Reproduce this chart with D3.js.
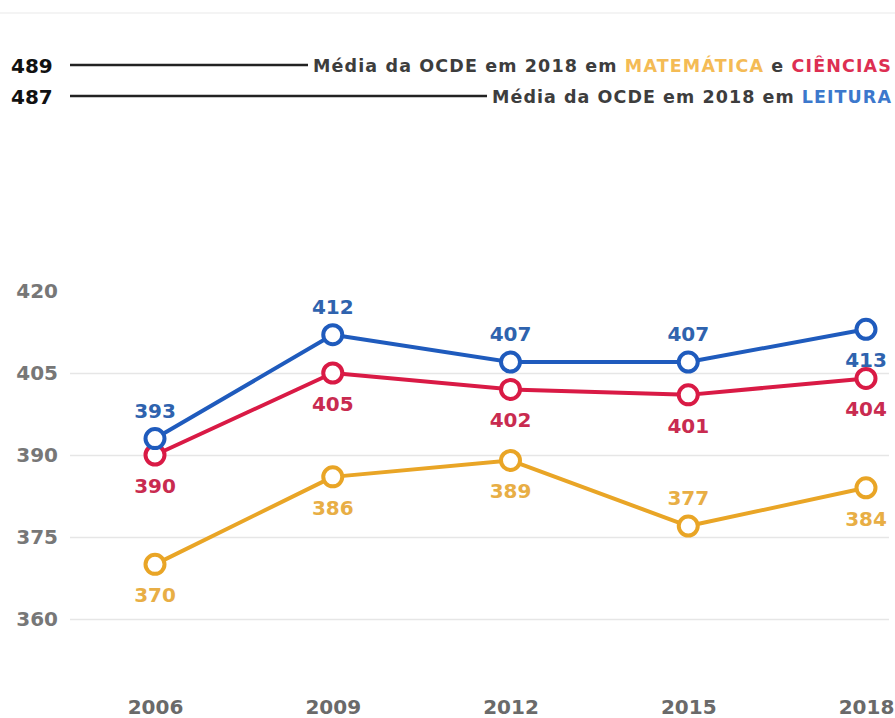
<!DOCTYPE html>
<html lang="pt">
<head>
<meta charset="utf-8">
<script src="https://cdn.jsdelivr.net/npm/d3@7"></script>
<style>
  html, body { margin: 0; padding: 0; background: #fff; }
  svg { display: block; font-family: "DejaVu Sans", "Open Sans", sans-serif; }
</style>
</head>
<body>
<svg id="chart" width="895" height="718"></svg>
<script>
// PISA scores for Brazil, by edition year
const years = [2006, 2009, 2012, 2015, 2018];
const leitura = [393, 412, 407, 407, 413];
const ciencias = [390, 405, 402, 401, 404];
const matematica = [370, 386, 389, 377, 384];
const yTicks = [360, 375, 390, 405, 420];

// label placement for each point: "up" above, "down" below the marker
const leituraPos = ["up", "up", "up", "up", "down"];
const cienciasPos = ["down", "down", "down", "down", "down"];
const matematicaPos = ["down", "down", "down", "up", "down"];

// OECD 2018 averages shown as reference rows above the chart
const oecdRefs = [
  { value: 489, start: 313, parts: [
      { t: "Média da OCDE em 2018 em ", c: "#3d3d3d" },
      { t: "MATEMÁTICA", c: "#f4bb55" },
      { t: " e ", c: "#3d3d3d" },
      { t: "CIÊNCIAS", c: "#dd2f52" } ] },
  { value: 487, start: 492, parts: [
      { t: "Média da OCDE em 2018 em ", c: "#3d3d3d" },
      { t: "LEITURA", c: "#3c78cc" } ] }
];

const series = [
  { name: "Matemática", values: matematica, pos: matematicaPos, line: "#e9a526", label: "#e8ae45" },
  { name: "Ciências", values: ciencias, pos: cienciasPos, line: "#d91a45", label: "#c92b50" },
  { name: "Leitura", values: leitura, pos: leituraPos, line: "#1f5bbd", label: "#2f63ae" }
];

const svg = d3.select("#chart");
const W = 895;
const textEnd = 892;

// thin separator at the very top
svg.append("line")
  .attr("x1", 0).attr("x2", W).attr("y1", 13).attr("y2", 13)
  .attr("stroke", "#f0f0f0").attr("stroke-width", 1.5);

// reference rows: value, rule, caption
const refY = [66, 97];
oecdRefs.forEach((r, i) => {
  const g = svg.append("g");
  g.append("text")
    .attr("x", 11).attr("y", refY[i]).attr("dy", "0.36em")
    .attr("font-size", 20).attr("font-weight", 700).attr("fill", "#111")
    .text(r.value);
  const t = g.append("text")
    .attr("y", refY[i]).attr("dy", "0.36em")
    .attr("font-size", 17.5).attr("font-weight", 700);
  r.parts.forEach(p => t.append("tspan").attr("fill", p.c).text(p.t));
  // spread the caption so it runs from its start to the right edge
  const n = r.parts.map(p => p.t).join("").length;
  const natural = t.node().getComputedTextLength();
  const spacing = (textEnd - r.start - natural) / n;
  t.attr("letter-spacing", spacing).attr("x", r.start);
  g.append("line")
    .attr("x1", 70).attr("x2", r.start - 5)
    .attr("y1", refY[i] - 1).attr("y2", refY[i] - 1)
    .attr("stroke", "#222").attr("stroke-width", 2.5);
});

// scales
const x = d3.scalePoint().domain(years).range([155, 866]);
const y = d3.scaleLinear().domain([360, 420]).range([619, 291]);

// y axis with gridlines
const yAxis = svg.append("g")
  .attr("transform", "translate(70,0)")
  .call(d3.axisLeft(y).tickValues(yTicks).tickSize(-(889 - 70)).tickPadding(12));
yAxis.select(".domain").remove();
yAxis.selectAll(".tick line")
  .attr("stroke", d => d === 420 ? "none" : "#e6e6e6")
  .attr("stroke-width", 1.5);
yAxis.selectAll(".tick text")
  .attr("font-family", "'DejaVu Sans', sans-serif")
  .attr("font-size", 20).attr("font-weight", 700).attr("fill", "#777");

// x axis labels
const xAxis = svg.append("g")
  .attr("transform", "translate(0,687)")
  .call(d3.axisBottom(x).tickSize(0).tickPadding(13));
xAxis.select(".domain").remove();
xAxis.selectAll(".tick text")
  .attr("font-family", "'DejaVu Sans', sans-serif")
  .attr("font-size", 20).attr("font-weight", 700).attr("fill", "#6a6a6a");

// lines, markers and value labels
const lineGen = d3.line().x((d, i) => x(years[i])).y(d => y(d));

series.forEach(s => {
  const g = svg.append("g");
  g.append("path")
    .datum(s.values)
    .attr("d", lineGen)
    .attr("fill", "none")
    .attr("stroke", s.line)
    .attr("stroke-width", 4)
    .attr("stroke-linejoin", "round");
  g.selectAll("circle")
    .data(s.values)
    .join("circle")
    .attr("cx", (d, i) => x(years[i]))
    .attr("cy", d => y(d))
    .attr("r", 9.5)
    .attr("fill", "#fff")
    .attr("stroke", s.line)
    .attr("stroke-width", 4);
  g.selectAll("text")
    .data(s.values)
    .join("text")
    .attr("x", (d, i) => x(years[i]))
    .attr("y", (d, i) => s.pos[i] === "up" ? y(d) - 21 : y(d) + 38)
    .attr("text-anchor", "middle")
    .attr("font-size", 20).attr("font-weight", 700)
    .attr("fill", s.label)
    .text(d => d);
});
</script>
</body>
</html>
